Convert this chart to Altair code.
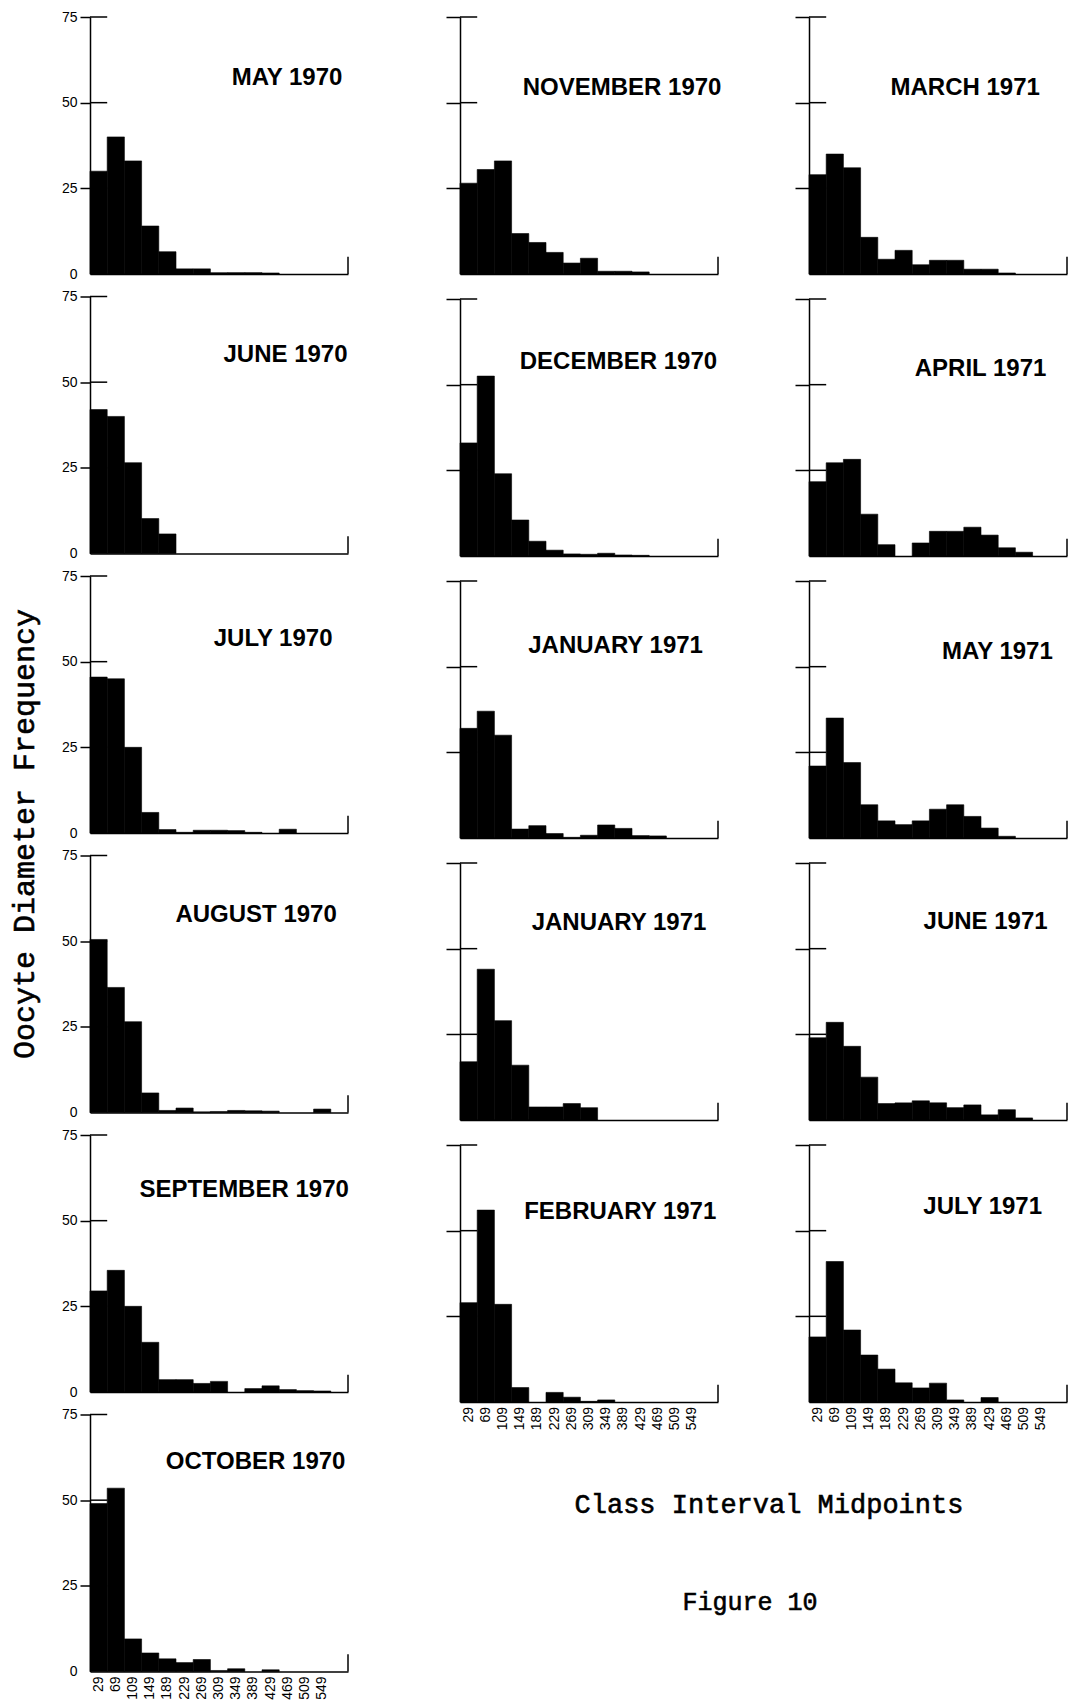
import altair as alt
import pandas as pd

# Class-interval midpoints (oocyte diameter classes, 40 units wide)
MIDPOINTS = [29, 69, 109, 149, 189, 229, 269, 309, 349, 389, 429, 469, 509, 549]
HALF_WIDTH = 20
X_DOMAIN = [9, 609]
Y_DOMAIN = [0, 75]
Y_TICKS = [25, 50, 75]

# Frequencies per class interval, one list per monthly sample
MAY_1970 = [30, 40, 33, 14, 6.5, 1.5, 1.5, 0.4, 0.4, 0.4, 0.3, 0, 0, 0]
JUNE_1970 = [42, 40, 26.5, 10.2, 5.7, 0, 0, 0, 0, 0, 0, 0, 0, 0]
JULY_1970 = [45.5, 45, 25, 6, 1, 0.2, 0.8, 0.8, 0.7, 0.2, 0, 1.1, 0, 0]
AUGUST_1970 = [50.5, 36.5, 26.5, 5.7, 0.6, 1.3, 0.2, 0.3, 0.6, 0.5, 0.4, 0, 0, 1.0]
SEPTEMBER_1970 = [29.5, 35.5, 25, 14.5, 3.6, 3.6, 2.5, 3.1, 0, 1.0, 1.8, 0.7, 0.4, 0.3]
OCTOBER_1970 = [49, 53.5, 9.5, 5.4, 3.7, 2.6, 3.5, 0.3, 0.8, 0, 0.5, 0, 0, 0]
NOVEMBER_1970 = [26.5, 30.5, 33, 11.8, 9.2, 6.3, 3.2, 4.6, 0.8, 0.8, 0.6, 0, 0, 0]
DECEMBER_1970 = [33, 52.5, 24, 10.5, 4.3, 1.7, 0.6, 0.5, 0.8, 0.3, 0.2, 0, 0, 0]
JANUARY_1971_A = [32, 37, 30, 2.6, 3.6, 1.3, 0.2, 0.8, 3.8, 2.8, 0.7, 0.6, 0, 0]
JANUARY_1971_B = [17, 44, 29, 16, 3.8, 3.8, 4.8, 3.6, 0, 0, 0, 0, 0, 0]
FEBRUARY_1971 = [29, 56, 28.5, 4.2, 0, 2.8, 1.4, 0.2, 0.6, 0, 0, 0, 0, 0]
MARCH_1971 = [29, 35, 31, 10.7, 4.3, 6.9, 2.7, 4, 4, 1.4, 1.4, 0.3, 0, 0]
APRIL_1971 = [21.7, 27.2, 28.2, 12.2, 3.3, 0, 3.8, 7.2, 7.2, 8.4, 6.1, 2.4, 1.1, 0]
MAY_1971 = [21, 35, 22, 9.7, 5, 3.9, 5, 8.4, 9.7, 6.3, 2.9, 0.5, 0, 0]
JUNE_1971 = [24, 28.5, 21.5, 12.5, 4.8, 5, 5.6, 5, 3.6, 4.4, 1.5, 3, 0.6, 0]
JULY_1971 = [19, 41, 21, 13.7, 9.6, 5.6, 4.1, 5.5, 0.6, 0, 1.3, 0, 0, 0]

LEFT_COLUMN = [
    ("MAY 1970", MAY_1970),
    ("JUNE 1970", JUNE_1970),
    ("JULY 1970", JULY_1970),
    ("AUGUST 1970", AUGUST_1970),
    ("SEPTEMBER 1970", SEPTEMBER_1970),
    ("OCTOBER 1970", OCTOBER_1970),
]
MIDDLE_COLUMN = [
    ("NOVEMBER 1970", NOVEMBER_1970),
    ("DECEMBER 1970", DECEMBER_1970),
    ("JANUARY 1971", JANUARY_1971_A),
    ("JANUARY 1971", JANUARY_1971_B),
    ("FEBRUARY 1971", FEBRUARY_1971),
]
RIGHT_COLUMN = [
    ("MARCH 1971", MARCH_1971),
    ("APRIL 1971", APRIL_1971),
    ("MAY 1971", MAY_1971),
    ("JUNE 1971", JUNE_1971),
    ("JULY 1971", JULY_1971),
]

# Layout: where each panel heading sits (right edge on the class axis, height on the frequency axis)
LEFT_HEADINGS = [(596, 57.3), (608, 57.9), (573, 56.6), (583, 57.6), (611, 58.9), (603, 61.1)]
MIDDLE_HEADINGS = [(617, 54.4), (607, 56.6), (574, 56.0), (582, 57.6), (605, 55.4)]
RIGHT_HEADINGS = [(546, 54.4), (561, 54.7), (576, 54.4), (564, 57.9), (551, 57.0)]

PLOT_W = 258
PLOT_H = 257
TICK_REACH = 40      # inward arm of the frequency ticks, in class units
END_MARK = 5         # height of the closing mark at the end of the class axis
SANS = "Liberation Sans"
MONO = "Liberation Mono"
ONE_ROW = alt.Data(values=[{}])


def panel(title, counts, heading, labelled, bottom, tick_size, extra=None):
    bars_df = pd.DataFrame({"mid": MIDPOINTS, "count": counts})
    bars_df = bars_df[bars_df["count"] > 0].copy()
    bars_df["lo"] = bars_df["mid"] - HALF_WIDTH
    bars_df["hi"] = bars_df["mid"] + HALF_WIDTH

    x_scale = alt.Scale(domain=X_DOMAIN, nice=False, zero=False)
    x_axis = alt.Axis(
        title=None, grid=False, ticks=False, labels=False,
        domainWidth=1.5, domainColor="black",
    )
    y_axis = alt.Axis(
        title=None, grid=False,
        values=([0] + Y_TICKS) if labelled else Y_TICKS,
        labels=labelled, labelFont=SANS, labelFontSize=14, labelColor="black",
        labelPadding=3, tickSize=tick_size, tickWidth=1.5,
        tickColor={"condition": {"test": "datum.value === 0", "value": "transparent"},
                   "value": "black"},
        domainWidth=1.5, domainColor="black",
    )

    bars = alt.Chart(bars_df).mark_rect(
        color="black", stroke="black", strokeWidth=0.6
    ).encode(
        x=alt.X("lo:Q", scale=x_scale, axis=x_axis),
        x2="hi:Q",
        y=alt.Y("count:Q", scale=alt.Scale(domain=Y_DOMAIN, nice=False), axis=y_axis),
        y2=alt.datum(0),
    )

    cross = alt.Chart(pd.DataFrame({"count": Y_TICKS})).mark_rule(
        color="black", strokeWidth=1.5
    ).encode(
        x=alt.datum(X_DOMAIN[0]),
        x2=alt.datum(X_DOMAIN[0] + TICK_REACH),
        y="count:Q",
    )

    end = alt.Chart(ONE_ROW).mark_rule(color="black", strokeWidth=1.5).encode(
        x=alt.datum(X_DOMAIN[1]), y=alt.datum(0), y2=alt.datum(END_MARK)
    )

    label = alt.Chart(ONE_ROW).mark_text(
        text=title, align="right", baseline="middle", font=SANS,
        fontSize=24, fontWeight="bold", color="black",
    ).encode(x=alt.datum(heading[0]), y=alt.datum(heading[1]))

    layers = [bars, cross, end, label]

    if bottom:
        # class-midpoint labels, set vertically under each interval
        mids = pd.DataFrame({"mid": MIDPOINTS, "name": [str(m) for m in MIDPOINTS]})
        layers.append(
            alt.Chart(mids).mark_text(
                angle=270, align="right", baseline="middle", font=SANS,
                fontSize=14, color="black",
            ).encode(
                x="mid:Q",
                y=alt.value(PLOT_H + 5),
                text="name:N",
            )
        )

    if extra is not None:
        layers.append(extra)
    return alt.layer(*layers).properties(width=PLOT_W, height=PLOT_H)


# Shared frequency title, drawn alongside the left column
y_title = alt.Chart(ONE_ROW).mark_text(
    text="Oocyte Diameter Frequency", angle=270, align="center", baseline="middle",
    font=MONO, fontSize=30, color="black", stroke="black", strokeWidth=0.6,
).encode(x=alt.value(-65), y=alt.value(258))

left_panels = []
for i, ((title, counts), heading) in enumerate(zip(LEFT_COLUMN, LEFT_HEADINGS)):
    left_panels.append(panel(
        title, counts, heading, labelled=True,
        bottom=(i == len(LEFT_COLUMN) - 1), tick_size=10,
        extra=y_title if title == "JULY 1970" else None,
    ))
left_block = alt.vconcat(*left_panels, spacing=22.5, bounds="flush")

middle_panels = [
    panel(t, c, h, labelled=False, bottom=(i == len(MIDDLE_COLUMN) - 1), tick_size=14)
    for i, ((t, c), h) in enumerate(zip(MIDDLE_COLUMN, MIDDLE_HEADINGS))
]
right_panels = [
    panel(t, c, h, labelled=False, bottom=(i == len(RIGHT_COLUMN) - 1), tick_size=14)
    for i, ((t, c), h) in enumerate(zip(RIGHT_COLUMN, RIGHT_HEADINGS))
]

notes = alt.layer(
    alt.Chart(ONE_ROW).mark_text(
        text="Class Interval Midpoints", align="center", baseline="middle",
        font=MONO, fontSize=27, color="black", stroke="black", strokeWidth=0.6,
    ).encode(x=alt.value(309), y=alt.value(78)),
    alt.Chart(ONE_ROW).mark_text(
        text="Figure 10", align="center", baseline="middle",
        font=MONO, fontSize=25, color="black", stroke="black", strokeWidth=0.6,
    ).encode(x=alt.value(290), y=alt.value(175)),
).properties(width=PLOT_W, height=PLOT_H)

grid_cells = []
for m, r in zip(middle_panels, right_panels):
    grid_cells.extend([m, r])
grid_cells.append(notes)

right_block = alt.concat(
    *grid_cells, columns=2,
    spacing=alt.RowColnumber(row=25, column=91), bounds="flush",
)

chart = alt.hconcat(left_block, right_block, spacing=96).properties(
    padding={"left": 9, "top": 10, "right": 0, "bottom": 0},
    background="white",
).configure_view(
    stroke=None
)

chart.save("out.html", embed_options={"renderer": "svg", "actions": False})
